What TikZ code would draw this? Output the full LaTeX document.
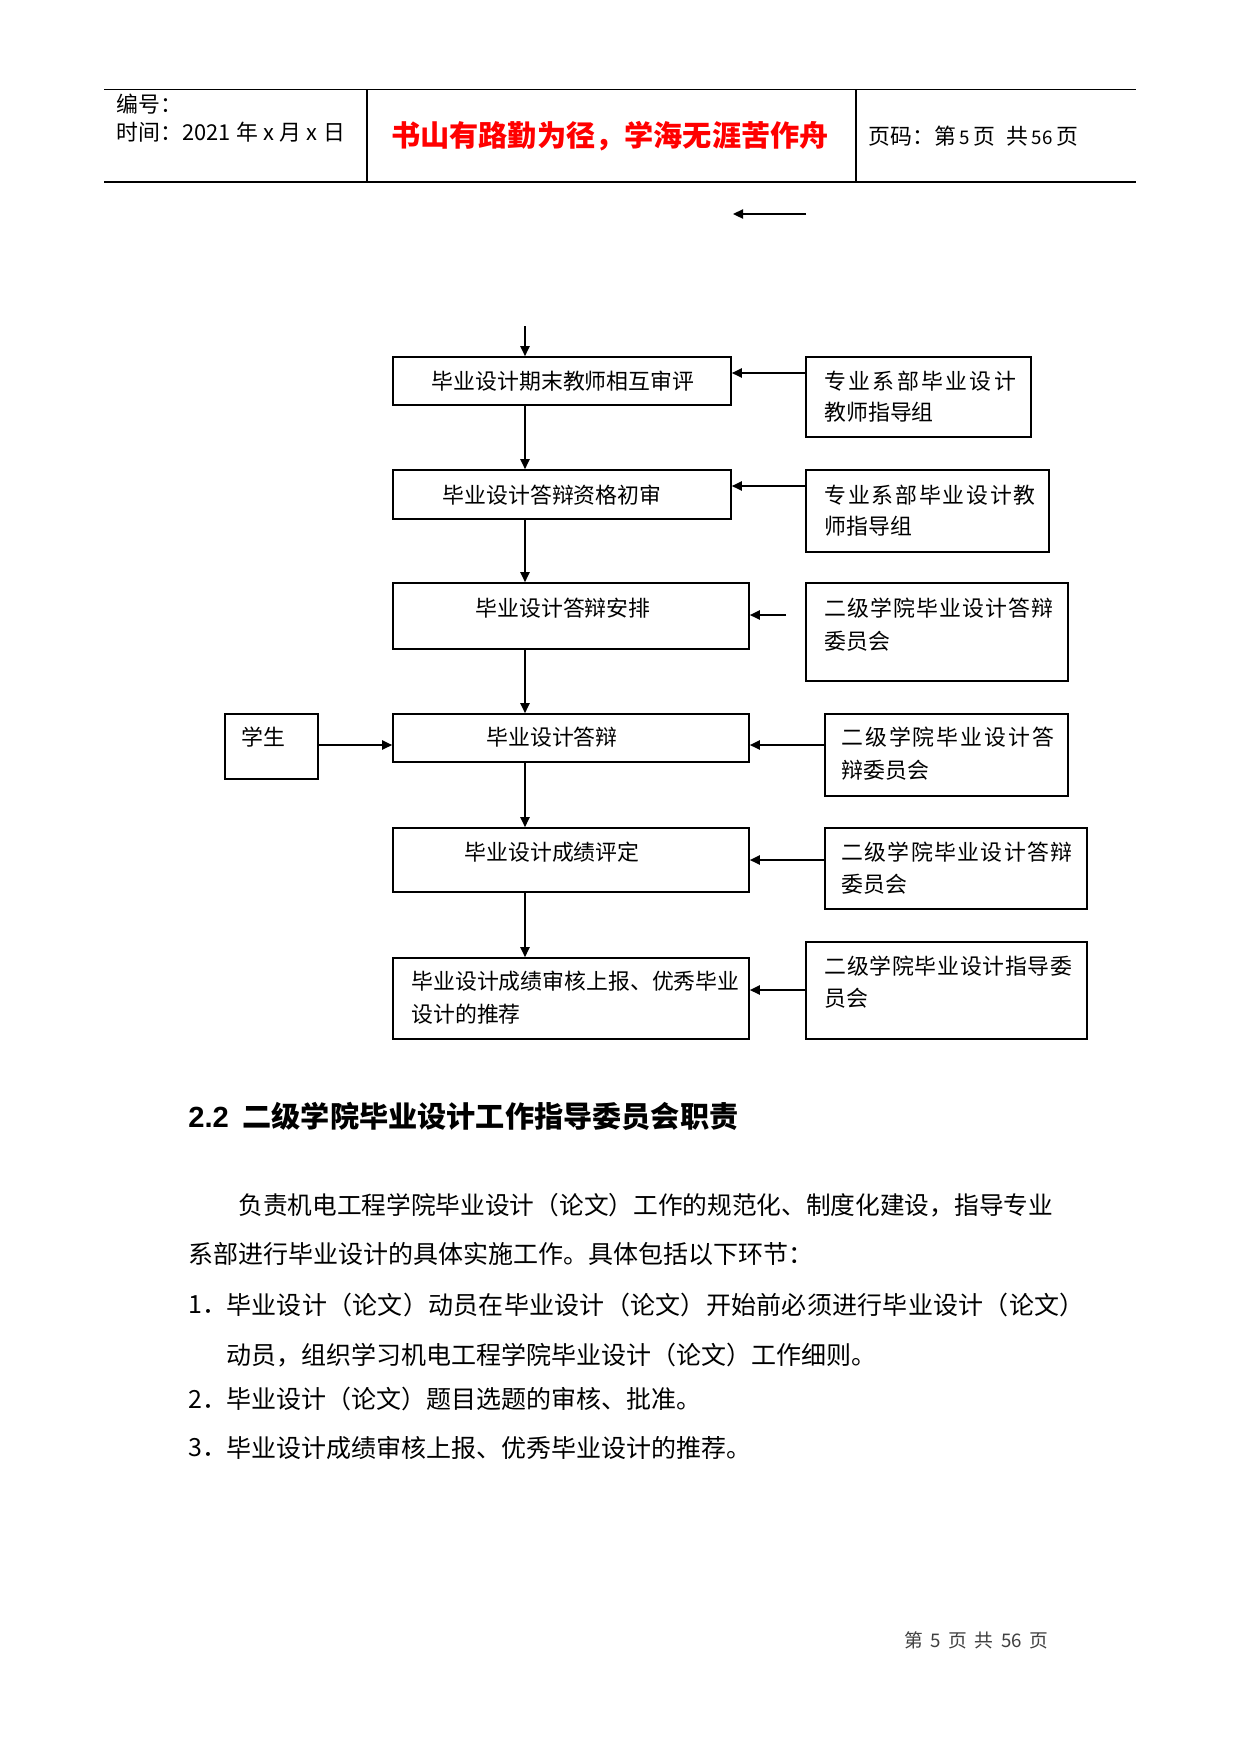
\documentclass[tikz,border=0pt]{standalone}
\usepackage{fontspec}
\setmainfont{Noto Sans CJK SC}
\newfontfamily\arialf{Liberation Sans}
\usetikzlibrary{arrows.meta,calc,fit}
\newcommand\sprd[2]{\makebox[#1][l]{\sprdloop#2\relax\unskip}}
\def\sprdloop#1{\ifx\relax#1\else#1\hfill\expandafter\sprdloop\fi}
\tikzset{
  boxn/.style={draw, line width=0.8pt, inner sep=0pt, rectangle},
  arr/.style={line width=0.8pt, -{Triangle[length=4.8pt,width=4.4pt]}},
  ftxt/.style={inner sep=0pt, font=\fontsize{10.5pt}{12pt}\selectfont},
  btxt/.style={inner sep=0pt, anchor=west, font=\fontsize{12pt}{14pt}\selectfont},
  htxt/.style={inner sep=0pt, anchor=west, font=\fontsize{10.5pt}{12pt}\selectfont},
  rule/.style={line width=0.6pt}
}
\begin{document}
\begin{tikzpicture}[x=0.48pt,y=-0.48pt]
\fill[white] (0,0) rectangle (1241,1754);
\useasboundingbox (0,0) rectangle (1241,1754);
% header table
\draw[rule] (104,89.5) -- (1136,89.5);
\draw[rule] (104,182) -- (1136,182);
\draw[line width=1pt] (367,89.5) -- (367,182);
\draw[rule] (856,89.5) -- (856,182);
\node[htxt] (bh) at (116,104) {编号：};
\node[htxt] (sj) at (116,132) {时间：2021\hspace{2.6pt}年\hspace{2.6pt}x\hspace{2.6pt}月\hspace{2.6pt}x\hspace{2.6pt}日};
\node[inner sep=0pt, text=red, font=\fontsize{14pt}{16pt}\selectfont\bfseries] (motto) at (610,136) {书山有路勤为径，学海无涯苦作舟};
\node[htxt] (ym) at (868,136) {页码：第\,{\small 5}\,页\enspace 共\,{\small 56}\,页};
% top free arrow
\coordinate (ta) at (806,214);
\coordinate (tb) at (733,214);
\draw[arr] (ta) -- (tb);
% boxes
\node[boxn, fit={(393,357) (731,405)}] (b1) {};
\node[boxn, fit={(806,357) (1031,437)}] (r1) {};
\node[boxn, fit={(393,470) (731,519)}] (b2) {};
\node[boxn, fit={(806,470) (1049,552)}] (r2) {};
\node[boxn, fit={(393,583) (749,649)}] (b3) {};
\node[boxn, fit={(806,583) (1068,681)}] (r3) {};
\node[boxn, fit={(225,714) (318,779)}] (st) {};
\node[boxn, fit={(393,714) (749,762)}] (b4) {};
\node[boxn, fit={(825,714) (1068,796)}] (r4) {};
\node[boxn, fit={(393,828) (749,892)}] (b5) {};
\node[boxn, fit={(825,828) (1087,909)}] (r5) {};
\node[boxn, fit={(393,958) (749,1039)}] (b6) {};
\node[boxn, fit={(806,942) (1087,1039)}] (r6) {};
% texts in main boxes
\node[ftxt] (t1) at (563,381) {毕业设计期末教师相互审评};
\node[ftxt] (t2) at (552,495) {毕业设计答辩资格初审};
\node[ftxt] (t3) at (563,608) {毕业设计答辩安排};
\node[ftxt] (t4) at (552,737) {毕业设计答辩};
\node[ftxt] (t5) at (552,852) {毕业设计成绩评定};
\node[ftxt, anchor=west] (t6a) at (411,981) {毕业设计成绩审核上报、优秀毕业};
\node[ftxt, anchor=west] (t6b) at (411,1014) {设计的推荐};
\node[ftxt, anchor=west] (tst) at (241,737) {学生};
% texts in right boxes
\node[ftxt, anchor=west] (s1a) at (824,381) {\sprd{92pt}{专业系部毕业设计}};
\node[ftxt, anchor=west] (s1b) at (824,412) {教师指导组};
\node[ftxt, anchor=west] (s2a) at (824,495) {\sprd{101.5pt}{专业系部毕业设计教}};
\node[ftxt, anchor=west] (s2b) at (824,526) {师指导组};
\node[ftxt, anchor=west] (s3a) at (824,608) {\sprd{110pt}{二级学院毕业设计答辩}};
\node[ftxt, anchor=west] (s3b) at (824,641) {委员会};
\node[ftxt, anchor=west] (s4a) at (841,737) {\sprd{102pt}{二级学院毕业设计答}};
\node[ftxt, anchor=west] (s4b) at (841,770) {辩委员会};
\node[ftxt, anchor=west] (s5a) at (841,852) {\sprd{111pt}{二级学院毕业设计答辩}};
\node[ftxt, anchor=west] (s5b) at (841,884) {委员会};
\node[ftxt, anchor=west] (s6a) at (824,966) {\sprd{119pt}{二级学院毕业设计指导委}};
\node[ftxt, anchor=west] (s6b) at (824,998) {员会};
% spine arrows
\coordinate (sp) at (525,326);
\draw[arr] (sp) -- (sp |- b1.north);
\draw[arr] (b1.south -| sp) -- (b2.north -| sp);
\draw[arr] (b2.south -| sp) -- (b3.north -| sp);
\draw[arr] (b3.south -| sp) -- (b4.north -| sp);
\draw[arr] (b4.south -| sp) -- (b5.north -| sp);
\draw[arr] (b5.south -| sp) -- (b6.north -| sp);
% horizontal arrows
\coordinate (y1) at (0,373);
\coordinate (y2) at (0,486);
\coordinate (t3) at (786,615);
\coordinate (y4) at (0,745);
\coordinate (y5) at (0,860);
\coordinate (y6) at (0,990);
\draw[arr] (r1.west |- y1) -- (b1.east |- y1);
\draw[arr] (r2.west |- y2) -- (b2.east |- y2);
\draw[arr] (t3) -- (b3.east |- t3);
\draw[arr] (st.east |- y4) -- (b4.west |- y4);
\draw[arr] (r4.west |- y4) -- (b4.east |- y4);
\draw[arr] (r5.west |- y5) -- (b5.east |- y5);
\draw[arr] (r6.west |- y6) -- (b6.east |- y6);
% section heading and text
\node[inner sep=0pt, anchor=west, font=\fontsize{14pt}{17pt}\selectfont\bfseries] (hd) at (188,1116) {{\arialf\bfseries 2.2}\hspace{6.5pt}二级学院毕业设计工作指导委员会职责};
\node[btxt, font=\fontsize{11.85pt}{14pt}\selectfont] (p1) at (238,1205) {负责机电工程学院毕业设计（论文）工作的规范化、制度化建设，指导专业};
\node[btxt] (p2) at (188,1254) {系部进行毕业设计的具体实施工作。具体包括以下环节：};
\node[btxt] (n1) at (188,1305) {1．};
\node[btxt] (l1) at (226,1305) {\sprd{412pt}{毕业设计（论文）动员在毕业设计（论文）开始前必须进行毕业设计（论文）}};
\node[btxt] (l1b) at (226,1355) {动员，组织学习机电工程学院毕业设计（论文）工作细则。};
\node[btxt] (n2) at (188,1399) {2．};
\node[btxt] (l2) at (226,1399) {毕业设计（论文）题目选题的审核、批准。};
\node[btxt] (n3) at (188,1448) {3．};
\node[btxt] (l3) at (226,1448) {毕业设计成绩审核上报、优秀毕业设计的推荐。};
% footer
\node[inner sep=0pt, anchor=west, text=black!75, font=\fontsize{9pt}{11pt}\selectfont] (ft) at (904,1640) {第\hspace{3.6pt}5\hspace{3.6pt}页\hspace{3.6pt}共\hspace{3.6pt}56\hspace{3.6pt}页};
\end{tikzpicture}
\end{document}
